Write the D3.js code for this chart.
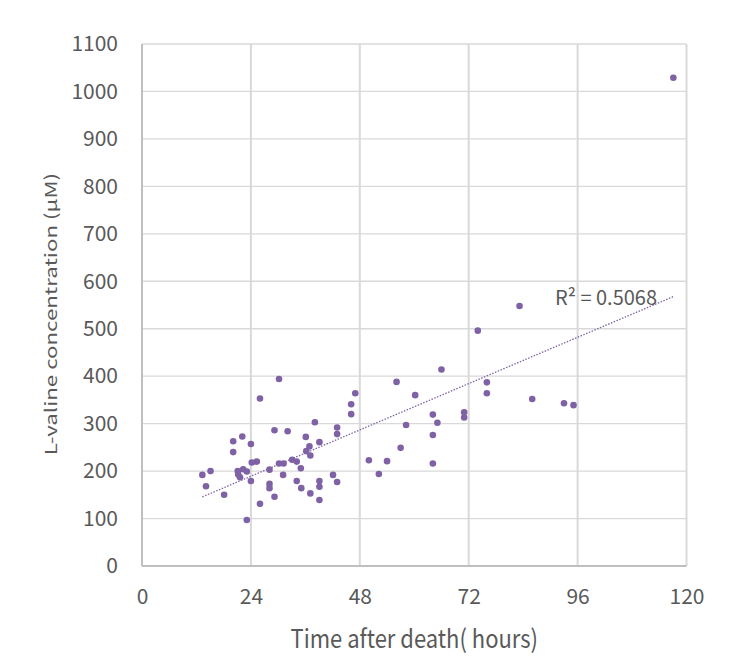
<!DOCTYPE html>
<html>
<head>
<meta charset="utf-8">
<script src="https://cdn.jsdelivr.net/npm/d3@7"></script>
<style>
  html, body { margin: 0; padding: 0; background: #fff; }
  svg { display: block; }
  text { font-family: "Noto Sans CJK KR", "Noto Sans", sans-serif; fill: #595959; }
</style>
</head>
<body>
<svg id="chart" width="732" height="668"></svg>
<script>
// Data
const hours = [13.3,14.1,15.1,18.1,20.1,20.1,21.1,21.2,21.6,22.1,22.3,23.1,23.1,24.0,24.2,24.0,25.3,26.0,26.0,
  28.1,28.1,28.1,29.2,29.2,30.2,30.2,31.2,31.1,32.1,33.1,34.1,34.1,35.0,35.1,36.1,36.9,36.2,37.1,37.1,38.1,
  39.1,39.1,39.1,39.1,42.1,43.0,43.0,43.0,46.1,46.1,47.0,50.0,52.2,54.0,56.1,57.0,58.2,60.2,64.1,64.1,64.1,
  65.1,66.0,71.0,71.0,74.0,76.0,76.0,83.2,86.0,93.0,95.1,117.1];
const valine = [192,168,200,150,263,240,200,193,187,273,204,199,97,257,218,179,220,353,131,
  203,173,164,286,146,394,216,216,192,284,224,220,179,206,164,272,252,242,233,153,303,
  261,179,167,139,192,292,278,177,341,320,364,223,194,221,388,249,297,360,319,276,216,
  302,414,324,313,496,387,364,548,352,343,339,1029];
const xTicks = [0,24,48,72,96,120];
const yTicks = [0,100,200,300,400,500,600,700,800,900,1000,1100];
const trend = { slope: 4.066, intercept: 91.6, label: "R² = 0.5068" };
const xTitle = "Time after death( hours)";
const yTitle = "L-valine concentration (μM)";

const svg = d3.select("#chart");
const m = { left: 142, top: 44, right: 732 - 686.5, bottom: 668 - 566 };
const W = 732 - m.left - m.right, H = 668 - m.top - m.bottom;
const x = d3.scaleLinear().domain([0, 120]).range([m.left, m.left + W]);
const y = d3.scaleLinear().domain([0, 1100]).range([m.top + H, m.top]);
const purple = "#7f62a6";

// horizontal gridlines
svg.append("g").selectAll("line").data(yTicks.filter(d => d > 0)).join("line")
  .attr("x1", x(0)).attr("x2", x(120)).attr("y1", d => y(d)).attr("y2", d => y(d))
  .attr("stroke", "#d9d9d9").attr("stroke-width", 1.3);
// vertical gridlines
svg.append("g").selectAll("line").data(xTicks.filter(d => d > 0)).join("line")
  .attr("x1", d => x(d)).attr("x2", d => x(d)).attr("y1", y(0)).attr("y2", y(1100))
  .attr("stroke", "#d9d9d9").attr("stroke-width", 2);
// axis lines
svg.append("line").attr("x1", x(0)).attr("x2", x(0)).attr("y1", y(0)).attr("y2", y(1100))
  .attr("stroke", "#bfbfbf").attr("stroke-width", 2);
svg.append("line").attr("x1", x(0)).attr("x2", x(120)).attr("y1", y(0)).attr("y2", y(0))
  .attr("stroke", "#bfbfbf").attr("stroke-width", 2);

// axes (labels only)
const yAxis = d3.axisLeft(y).tickValues(yTicks).tickFormat(d3.format("d")).tickSize(0).tickPadding(24);
const gy = svg.append("g").attr("transform", `translate(${x(0)},0)`).call(yAxis);
gy.select(".domain").remove();
gy.selectAll("text").style("font-size", "21px").attr("fill", "#595959").attr("font-family", null);

const xAxis = d3.axisBottom(x).tickValues(xTicks).tickFormat(d3.format("d")).tickSize(0).tickPadding(23);
const gx = svg.append("g").attr("transform", `translate(0,${y(0)})`).call(xAxis);
gx.select(".domain").remove();
gx.selectAll("text").style("font-size", "21px").attr("fill", "#595959").attr("font-family", null);

// trendline
const t0 = d3.min(hours), t1 = d3.max(hours);
svg.append("line")
  .attr("x1", x(t0)).attr("y1", y(trend.intercept + trend.slope * t0))
  .attr("x2", x(t1)).attr("y2", y(trend.intercept + trend.slope * t1))
  .attr("stroke", purple).attr("stroke-width", 1.3).attr("stroke-dasharray", "1.5,1.5");

// points
svg.append("g").selectAll("circle").data(hours.map((h, i) => [h, valine[i]])).join("circle")
  .attr("cx", d => x(d[0])).attr("cy", d => y(d[1])).attr("r", 3.3).attr("fill", purple);

// R² label
svg.append("text").attr("x", 555).attr("y", 305).style("font-size", "20px").text(trend.label);

// titles
svg.append("text").attr("transform", `translate(${(x(0) + x(120)) / 2},648) scale(1,1.15)`)
  .attr("text-anchor", "middle").style("font-size", "22px").text(xTitle);
svg.append("text").attr("transform", `translate(56.5,314) rotate(-90) scale(1.35,1)`)
  .attr("text-anchor", "middle").style("font-size", "16.5px").text(yTitle);
</script>
</body>
</html>
